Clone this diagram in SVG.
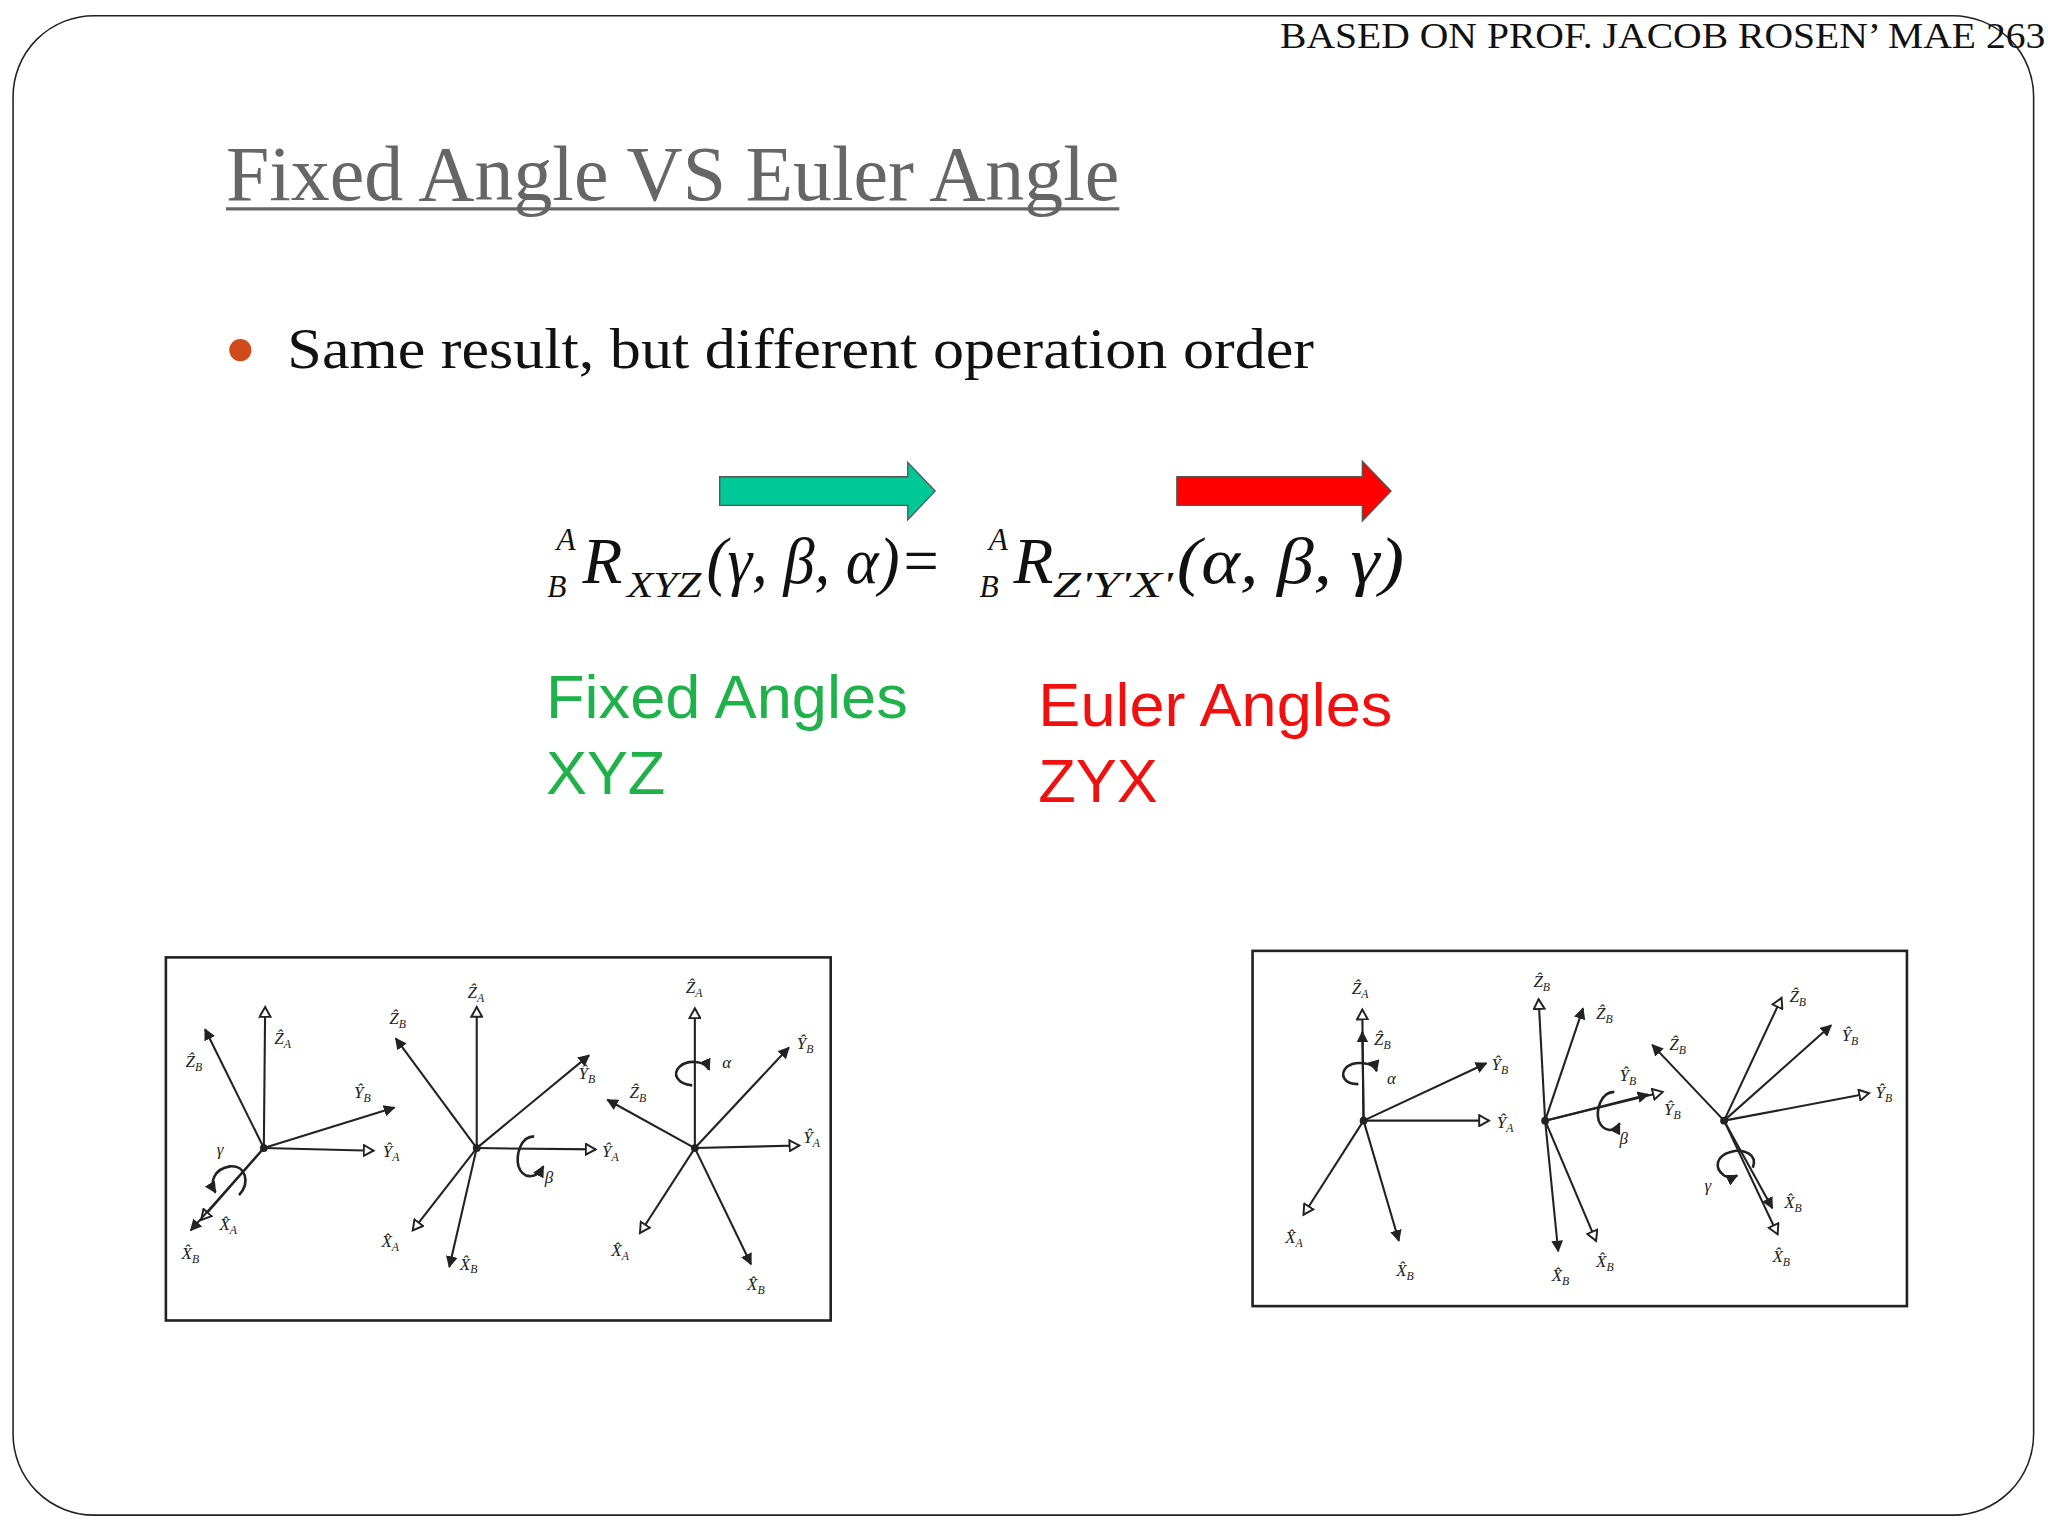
<svg xmlns="http://www.w3.org/2000/svg" width="2048" height="1536" viewBox="0 0 2048 1536">
<defs>
<style>
.ax{stroke:#222;stroke-width:1.6;fill:none}
.sol{marker-end:url(#ms)}
.opn{marker-end:url(#mo)}
.rot{stroke:#222;stroke-width:2;fill:none;marker-end:url(#ms)}
.lb{font-family:"Liberation Serif",serif;font-style:italic;font-size:13px;fill:#222}
.sb{font-size:9px}
.eq{font-family:"Liberation Serif",serif;font-style:italic;fill:#111}
.sa{font-family:"Liberation Sans",Arial,sans-serif}
</style>
<marker id="ms" viewBox="0 0 10 10" refX="9" refY="5" markerWidth="9" markerHeight="9" markerUnits="userSpaceOnUse" orient="auto"><path d="M0,0 L10,5 L0,10 z" fill="#222"/></marker>
<marker id="mo" viewBox="0 0 12 12" refX="10" refY="6" markerWidth="10" markerHeight="10" markerUnits="userSpaceOnUse" orient="auto"><path d="M1,1 L10,6 L1,11 z" fill="#fff" stroke="#222" stroke-width="1.8"/></marker>
</defs>
<rect width="2048" height="1536" fill="#fff"/>
<g transform="scale(1.30612)">
<rect x="10" y="12" width="1547" height="1148" rx="62" fill="none" stroke="#222" stroke-width="1.2"/>
<text x="980" y="37" font-family="Liberation Serif,serif" font-size="28" fill="#111" textLength="586" lengthAdjust="spacingAndGlyphs">BASED ON PROF. JACOB ROSEN’ MAE 263</text>
<g id="title"><text x="173" y="153" font-family="Liberation Serif,serif" font-size="60" fill="#666" textLength="684" lengthAdjust="spacingAndGlyphs">Fixed Angle VS Euler Angle</text>
<line x1="173" y1="160" x2="857" y2="160" stroke="#666" stroke-width="2.5"/></g>
<g id="bullet"><circle cx="184" cy="268" r="8.5" fill="#d04a1a"/>
<text x="220" y="282" font-family="Liberation Serif,serif" font-size="44" fill="#111" textLength="786" lengthAdjust="spacingAndGlyphs">Same result, but different operation order</text></g>
<g id="arrows">
<polygon points="551,365 695,365 695,354 716,376 695,398 695,387 551,387" fill="#00c896" stroke="#555" stroke-width="1"/>
<polygon points="901,365 1043,365 1043,353 1065,376 1043,399 1043,387 901,387" fill="#ff0000" stroke="#555" stroke-width="1"/>
</g>
<g id="equation">
<text class="eq" x="426" y="421" font-size="24">A</text>
<text class="eq" x="419" y="457" font-size="24">B</text>
<text class="eq" x="446" y="446" font-size="50">R</text>
<text class="eq" x="480" y="457" font-size="27" textLength="57" lengthAdjust="spacingAndGlyphs">XYZ</text>
<text class="eq" x="541" y="446" font-size="50" textLength="180" lengthAdjust="spacingAndGlyphs">(γ, β, α)=</text>
<text class="eq" x="757" y="421" font-size="24">A</text>
<text class="eq" x="750" y="457" font-size="24">B</text>
<text class="eq" x="776" y="446" font-size="50">R</text>
<text class="eq" x="806" y="457" font-size="27" textLength="92" lengthAdjust="spacingAndGlyphs">Z'Y'X'</text>
<text class="eq" x="901" y="446" font-size="50" textLength="174" lengthAdjust="spacingAndGlyphs">(α, β, γ)</text>
</g>
<g id="fixed" class="sa" fill="#20b24a"><text x="418" y="550" font-size="47" textLength="277" lengthAdjust="spacingAndGlyphs">Fixed Angles</text><text x="418" y="608" font-size="47">XYZ</text></g>
<g id="euler" class="sa" fill="#f01010"><text x="795" y="556" font-size="47" textLength="271" lengthAdjust="spacingAndGlyphs">Euler Angles</text><text x="795" y="614" font-size="47">ZYX</text></g>

<g id="leftbox">
<rect x="127" y="733" width="509" height="278" fill="#fff" stroke="#222" stroke-width="2"/>
<g>
<path class="ax opn" d="M202,879 L203,771"/><path class="ax sol" d="M202,879 L157,788"/><path class="ax sol" d="M202,879 L302,848"/><path class="ax opn" d="M202,879 L286,881"/><path class="ax opn" d="M202,879 L154,934"/><path class="ax sol" d="M202,879 L146,942"/>
<circle cx="202" cy="879" r="3" fill="#222"/>
<path class="rot" d="M183,915 C192,905 188,892 176,893 C164,895 160,905 165,913"/>
<text class="lb" x="142" y="817">Ẑ<tspan class="sb" dy="3">B</tspan></text>
<text class="lb" x="210" y="799">Ẑ<tspan class="sb" dy="3">A</tspan></text>
<text class="lb" x="271" y="841">Ŷ<tspan class="sb" dy="3">B</tspan></text>
<text class="lb" x="293" y="886">Ŷ<tspan class="sb" dy="3">A</tspan></text>
<text class="lb" x="168" y="942">X̂<tspan class="sb" dy="3">A</tspan></text>
<text class="lb" x="139" y="964">X̂<tspan class="sb" dy="3">B</tspan></text>
<text class="lb" x="166" y="884" font-size="10">γ</text>
</g>
<g>
<path class="ax opn" d="M365,879 L365,771"/><path class="ax sol" d="M365,879 L303,795"/><path class="ax sol" d="M365,879 L451,808"/><path class="ax opn" d="M365,879 L456,880"/><path class="ax opn" d="M365,879 L316,942"/><path class="ax sol" d="M365,879 L344,970"/>
<circle cx="365" cy="879" r="3" fill="#222"/>
<path class="rot" d="M409,870 C398,870 395,885 397,893 C400,902 410,904 416,893"/>
<text class="lb" x="358" y="764">Ẑ<tspan class="sb" dy="3">A</tspan></text>
<text class="lb" x="298" y="784">Ẑ<tspan class="sb" dy="3">B</tspan></text>
<text class="lb" x="443" y="826">Ŷ<tspan class="sb" dy="3">B</tspan></text>
<text class="lb" x="461" y="886">Ŷ<tspan class="sb" dy="3">A</tspan></text>
<text class="lb" x="292" y="955">X̂<tspan class="sb" dy="3">A</tspan></text>
<text class="lb" x="352" y="972">X̂<tspan class="sb" dy="3">B</tspan></text>
<text class="lb" x="417" y="906" font-size="10">β</text>
</g>
<g>
<path class="ax opn" d="M532,879 L532,772"/><path class="ax sol" d="M532,879 L604,802"/><path class="ax sol" d="M532,879 L465,842"/><path class="ax opn" d="M532,879 L612,877"/><path class="ax opn" d="M532,879 L490,944"/><path class="ax sol" d="M532,879 L575,968"/>
<circle cx="532" cy="879" r="3" fill="#222"/>
<path class="rot" d="M530,831 C518,830 515,822 520,817 C526,811 540,812 543,819"/>
<text class="lb" x="525" y="760">Ẑ<tspan class="sb" dy="3">A</tspan></text>
<text class="lb" x="610" y="803">Ŷ<tspan class="sb" dy="3">B</tspan></text>
<text class="lb" x="482" y="841">Ẑ<tspan class="sb" dy="3">B</tspan></text>
<text class="lb" x="615" y="875">Ŷ<tspan class="sb" dy="3">A</tspan></text>
<text class="lb" x="468" y="962">X̂<tspan class="sb" dy="3">A</tspan></text>
<text class="lb" x="572" y="988">X̂<tspan class="sb" dy="3">B</tspan></text>
<text class="lb" x="553" y="818" font-size="10">α</text>
</g>
</g>

<g id="rightbox">
<rect x="959" y="728" width="501" height="272" fill="#fff" stroke="#222" stroke-width="2"/>
<g>
<path class="ax opn" d="M1044,858 L1043,773"/><path class="ax sol" d="M1044,858 L1043,790"/><path class="ax sol" d="M1044,858 L1138,814"/><path class="ax opn" d="M1044,858 L1140,858"/><path class="ax opn" d="M1044,858 L998,930"/><path class="ax sol" d="M1044,858 L1071,950"/>
<circle cx="1044" cy="858" r="3" fill="#222"/>
<path class="rot" d="M1040,830 C1028,830 1026,822 1031,817 C1037,812 1052,813 1054,820"/>
<text class="lb" x="1035" y="761">Ẑ<tspan class="sb" dy="3">A</tspan></text>
<text class="lb" x="1052" y="800">Ẑ<tspan class="sb" dy="3">B</tspan></text>
<text class="lb" x="1142" y="819">Ŷ<tspan class="sb" dy="3">B</tspan></text>
<text class="lb" x="1146" y="864">Ŷ<tspan class="sb" dy="3">A</tspan></text>
<text class="lb" x="984" y="952">X̂<tspan class="sb" dy="3">A</tspan></text>
<text class="lb" x="1069" y="977">X̂<tspan class="sb" dy="3">B</tspan></text>
<text class="lb" x="1062" y="830" font-size="10">α</text>
</g>
<g>
<path class="ax opn" d="M1183,858 L1178,765"/><path class="ax sol" d="M1183,858 L1212,772"/><path class="ax sol" d="M1183,858 L1262,838"/><path class="ax opn" d="M1183,858 L1273,836"/><path class="ax sol" d="M1183,858 L1193,958"/><path class="ax opn" d="M1183,858 L1222,950"/>
<circle cx="1183" cy="858" r="3" fill="#222"/>
<path class="rot" d="M1236,836 C1225,836 1222,851 1224,858 C1227,866 1236,868 1240,860"/>
<text class="lb" x="1174" y="756">Ẑ<tspan class="sb" dy="3">B</tspan></text>
<text class="lb" x="1222" y="780">Ẑ<tspan class="sb" dy="3">B</tspan></text>
<text class="lb" x="1240" y="828">Ŷ<tspan class="sb" dy="3">B</tspan></text>
<text class="lb" x="1274" y="854">Ŷ<tspan class="sb" dy="3">B</tspan></text>
<text class="lb" x="1188" y="981">X̂<tspan class="sb" dy="3">B</tspan></text>
<text class="lb" x="1222" y="970">X̂<tspan class="sb" dy="3">B</tspan></text>
<text class="lb" x="1240" y="876" font-size="10">β</text>
</g>
<g>
<path class="ax opn" d="M1320,858 L1364,764"/><path class="ax sol" d="M1320,858 L1402,785"/><path class="ax sol" d="M1320,858 L1265,800"/><path class="ax opn" d="M1320,858 L1431,837"/><path class="ax sol" d="M1320,858 L1357,925"/><path class="ax opn" d="M1320,858 L1361,945"/>
<circle cx="1320" cy="858" r="3" fill="#222"/>
<path class="rot" d="M1342,894 C1346,884 1335,879 1325,882 C1314,885 1312,894 1320,900 C1323,902 1326,902 1330,900"/>
<text class="lb" x="1370" y="767">Ẑ<tspan class="sb" dy="3">B</tspan></text>
<text class="lb" x="1410" y="797">Ŷ<tspan class="sb" dy="3">B</tspan></text>
<text class="lb" x="1278" y="804">Ẑ<tspan class="sb" dy="3">B</tspan></text>
<text class="lb" x="1436" y="841">Ŷ<tspan class="sb" dy="3">B</tspan></text>
<text class="lb" x="1366" y="925">X̂<tspan class="sb" dy="3">B</tspan></text>
<text class="lb" x="1357" y="966">X̂<tspan class="sb" dy="3">B</tspan></text>
<text class="lb" x="1305" y="912" font-size="10">γ</text>
</g>
</g>
</g>
</svg>
